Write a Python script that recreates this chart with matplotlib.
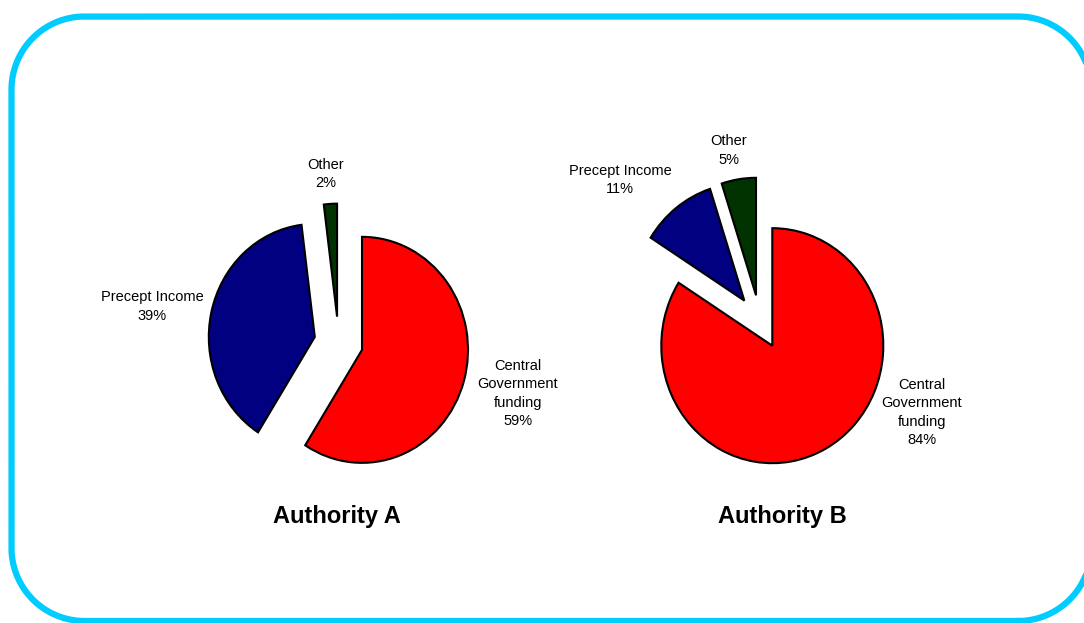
import numpy as np
import matplotlib.pyplot as plt

plt.rcParams['font.family'] = ['Liberation Sans', 'DejaVu Sans']

# доли финансирования, %
categories = ['Central\nGovernment\nfunding', 'Precept Income', 'Other']
share_a = [59, 39, 2]
share_b = [84, 11, 5]
titles = ['Authority A', 'Authority B']
colors = ['#FF0000', '#000080', '#003300']

W, H = 1084, 623
fig = plt.figure(figsize=(W / 100, H / 100), dpi=100)

# рамка со скруглёнными углами (в пикселях, y вверх)
bg = fig.add_axes([0, 0, 1, 1])
bg.set_xlim(0, W)
bg.set_ylim(0, H)
bg.axis('off')


def rounded_rect(x0, y0, x1, y1, r, n=40):
    # ломаная вместо кривых Безье: иначе обрезка по краю холста искажает углы
    xs, ys = [], []
    for cx, cy, a0 in [(x1 - r, y0 + r, -90), (x1 - r, y1 - r, 0),
                       (x0 + r, y1 - r, 90), (x0 + r, y0 + r, 180)]:
        t = np.radians(np.linspace(a0, a0 + 90, n))
        xs.extend(cx + r * np.cos(t))
        ys.extend(cy + r * np.sin(t))
    xs.append(xs[0])
    ys.append(ys[0])
    return xs, ys


bx, by = rounded_rect(11.5, 2, 1091, 606.5, 73)
bg.plot(bx, by, color='#00CCFF', linewidth=4.5, solid_joinstyle='round')


def pie_axes(cx, cy, sx, sy):
    # оси с центром (cx, cy) в пикселях и масштабом sx, sy пикселей на радиус
    w, h = 4 * sx, 4 * sy
    ax = fig.add_axes([(cx - w / 2) / W, (H - cy - h / 2) / H, w / W, h / H])
    return ax


def draw(ax, values, label_pos):
    ax.pie(values, colors=colors, startangle=90, counterclock=False,
           explode=[0.23] * len(values), radius=1,
           wedgeprops=dict(edgecolor='black', linewidth=1.5))
    ax.set_aspect('auto')
    ax.set_xlim(-2, 2)
    ax.set_ylim(-2, 2)
    ax.axis('off')
    for name, v, (x, y) in zip(categories, values, label_pos):
        ax.text(x, y, f'{name}\n{v}%', ha='center', va='center',
                fontsize=10.5, linespacing=1.38)


ax_a = pie_axes(338.6, 342.6, 106, 113)
draw(ax_a, share_a, [(1.69, -0.45), (-1.76, 0.32), (-0.12, 1.49)])

ax_b = pie_axes(760, 322, 111, 117.5)
draw(ax_b, share_b, [(1.46, -0.77), (-1.26, 1.21), (-0.28, 1.46)])

bg.text(337, H - 516, titles[0], ha='center', va='center',
        fontsize=17, fontweight='bold')
bg.text(782, H - 516, titles[1], ha='center', va='center',
        fontsize=17, fontweight='bold')

plt.savefig('out.png', dpi=100)
